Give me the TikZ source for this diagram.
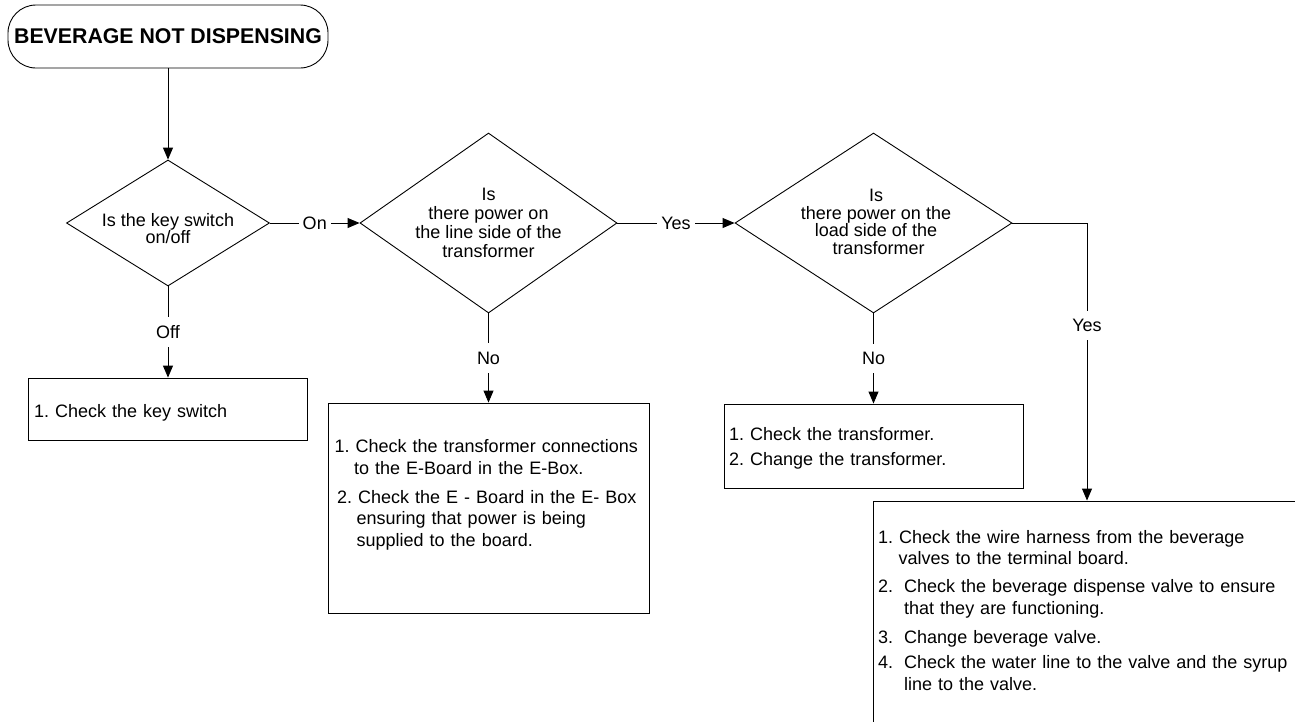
\documentclass[tikz,border=0pt]{standalone}
\usepackage{fontspec}
\setmainfont{Liberation Sans}
\usetikzlibrary{shapes.geometric,arrows.meta}
\frenchspacing
\begin{document}
\begin{tikzpicture}[x=1pt,y=-1pt,
  every node/.style={font=\fontsize{18}{21.5}\selectfont},
  ln/.style={line width=0.9pt, draw=black},
  arr/.style={ln, -{Triangle[length=12pt,width=10pt]}},
  dia/.style={diamond, ln, inner sep=0pt},
  boxnode/.style={rectangle, ln, inner sep=0pt},
  dtext/.style={align=center, inner sep=0pt},
  lbl/.style={fill=white, inner xsep=4pt, inner ysep=8.5pt},
  txt/.style={anchor=base west, inner sep=0pt, align=left},
]
\useasboundingbox (0,0) rectangle (1295,721);

% start
\node[boxnode, rounded corners=28pt, minimum width=320pt, minimum height=63pt,
      font=\fontsize{21.3}{25}\selectfont\bfseries] (start) at (168,36.5) {BEVERAGE NOT DISPENSING};

% decisions
\node[dia, minimum width=203pt, minimum height=126pt] (d1) at (168,223) {};
\node[dtext, font=\fontsize{18}{17}\selectfont] at (168,229) {Is the key switch\\on/off};

\node[dia, minimum width=257pt, minimum height=180pt] (d2) at (488.5,223) {};
\node[dtext, font=\fontsize{18}{19}\selectfont] at (488.5,223) {Is\\there power on\\the line side of the\\transformer};

\node[dia, minimum width=277pt, minimum height=180pt] (d3) at (873.5,223) {};
\node[dtext, font=\fontsize{18}{17.7}\selectfont] at (876,222) {Is\\there power on the\\load side of the\\\ transformer};

% boxes
\node[boxnode, minimum width=279pt, minimum height=62pt] (b1) at (168,409) {};
\node[txt, text width=270pt] at (34,417) {1. Check the key switch};

\node[boxnode, minimum width=321pt, minimum height=210pt] (b2) at (488.5,508) {};
\node[txt, text width=312pt] at (334.5,452.5) {1. Check the transformer connections\\
\hspace*{19.5pt}to the E-Board in the E-Box.\\[7.5pt]
\hspace*{2.5pt}2. Check the E - Board in the E- Box\\
\hspace*{22pt}ensuring that power is being\\
\hspace*{22pt}supplied to the board.};

\node[boxnode, minimum width=299pt, minimum height=84pt] (b3) at (873.5,446) {};
\node[txt, text width=290pt] at (729,440) {1. Check the transformer.\\[3.5pt]
2. Change the transformer.};

\node[boxnode, minimum width=428pt, minimum height=240pt] (b4) at (1087,621) {};
\node[txt, text width=415pt] at (878,543) {1. Check the wire harness from the beverage\\
\hspace*{20.5pt}valves to the terminal board.\\[6.5pt]
2.\hspace{11pt}Check the beverage dispense valve to ensure\\
\hspace*{26pt}that they are functioning.\\[8pt]
3.\hspace{11pt}Change beverage valve.\\[3.5pt]
4.\hspace{11pt}Check the water line to the valve and the syrup\\
\hspace*{26pt}line to the valve.};

% connectors
\draw[arr] (start.south) -- (d1.north);
\draw[arr] (d1.east) -- node[lbl]{On} (d2.west);
\draw[arr] (d2.east) -- node[lbl]{Yes} (d3.west);
\draw[arr] (d1.south) -- node[lbl]{Off} (b1.north);
\draw[arr] (d2.south) -- node[lbl]{No} (b2.north);
\draw[arr] (d3.south) -- node[lbl]{No} (b3.north);
\draw[arr] (d3.east) -| node[lbl, pos=0.685]{Yes} (b4.north);
\end{tikzpicture}
\end{document}
